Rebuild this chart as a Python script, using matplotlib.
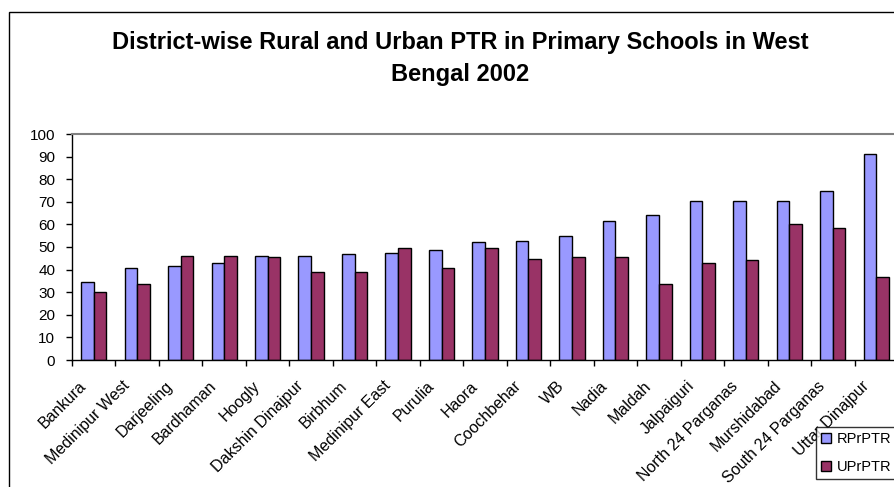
import matplotlib
matplotlib.use("Agg")
import matplotlib.pyplot as plt
from matplotlib.patches import Rectangle
from matplotlib.transforms import ScaledTranslation
import numpy as np

plt.rcParams['font.family'] = ['Liberation Sans', 'DejaVu Sans']

districts = ["Bankura", "Medinipur West", "Darjeeling", "Bardhaman", "Hoogly",
             "Dakshin Dinajpur", "Birbhum", "Medinipur East", "Purulia", "Haora",
             "Coochbehar", "WB", "Nadia", "Maldah", "Jalpaiguri",
             "North 24 Parganas", "Murshidabad", "South 24 Parganas", "Uttar Dinajpur"]
rural_ptr = [34.6, 40.9, 41.4, 42.8, 46.2, 46.2, 46.8, 47.5, 48.8, 52.2,
             52.8, 54.9, 61.6, 64.2, 70.4, 70.4, 70.4, 74.9, 91.2]
urban_ptr = [30.0, 33.5, 46.2, 46.2, 45.6, 38.8, 38.8, 49.6, 40.9, 49.6,
             44.8, 45.6, 45.6, 33.5, 42.8, 44.1, 60.2, 58.3, 36.9]
series_names = ["RPrPTR", "UPrPTR"]
y_ticks = list(range(0, 101, 10))

W, H = 894, 487
fig = plt.figure(figsize=(W / 100, H / 100), dpi=100)

# outer chart frame (runs past the right and bottom edges)
fig.patches.append(Rectangle((9 / W, -0.2), 1.2, (H - 12) / H + 0.2,
                             transform=fig.transFigure, fill=False,
                             edgecolor="black", linewidth=1.0))

ax = fig.add_axes([72 / W, (H - 360) / H, 826 / W, 226 / H])
x = np.arange(len(districts))
bw = 0.29
ax.bar(x - bw / 2, rural_ptr, bw, color="#9999FF", edgecolor="black",
       linewidth=1.0, label=series_names[0])
ax.bar(x + bw / 2, urban_ptr, bw, color="#993366", edgecolor="black",
       linewidth=1.0, label=series_names[1])

ax.set_xlim(-0.5, len(districts) - 0.5)
ax.set_ylim(0, 100)
ax.set_yticks(y_ticks)
ax.tick_params(axis="y", direction="out", length=4, width=1, labelsize=11, pad=8)

ax.set_xticks(x)
ax.set_xticklabels(districts, rotation=45, ha="right", va="center",
                   rotation_mode="anchor", fontsize=11.5)
ax.tick_params(axis="x", which="major", length=0, pad=17)
ax.set_xticks(np.arange(-0.5, len(districts), 1), minor=True)
ax.tick_params(axis="x", which="minor", direction="out", length=4, width=1)

# nudge the rotated category labels left of each group centre
shift = ScaledTranslation(-10 / 100, 0, fig.dpi_scale_trans)
for lbl in ax.get_xticklabels():
    lbl.set_transform(lbl.get_transform() + shift)

for side in ("top", "right"):
    ax.spines[side].set_color("#808080")
    ax.spines[side].set_linewidth(1.5)
for side in ("left", "bottom"):
    ax.spines[side].set_color("black")
    ax.spines[side].set_linewidth(1.0)

fig.text(460 / W, 1 - 43 / H, "District-wise Rural and Urban PTR in Primary Schools in West",
         ha="center", va="center", fontsize=17, fontweight="bold")
fig.text(460 / W, 1 - 74 / H, "Bengal 2002",
         ha="center", va="center", fontsize=17, fontweight="bold")

leg = fig.legend(loc="upper left", bbox_to_anchor=(816 / W, 1 - 427 / H),
                 frameon=True, fancybox=False, edgecolor="black", fontsize=10.5,
                 handlelength=0.7, handleheight=0.7, handletextpad=0.4,
                 borderpad=0.85, borderaxespad=0, labelspacing=0.95)
leg.get_frame().set_linewidth(1.0)
# keep the left inner padding compact so the labels stay inside the figure
leg._legend_box.pad = 0.35 * leg.prop.get_size_in_points()
leg._legend_box.sep = 0

fig.savefig("out.png", dpi=100)
